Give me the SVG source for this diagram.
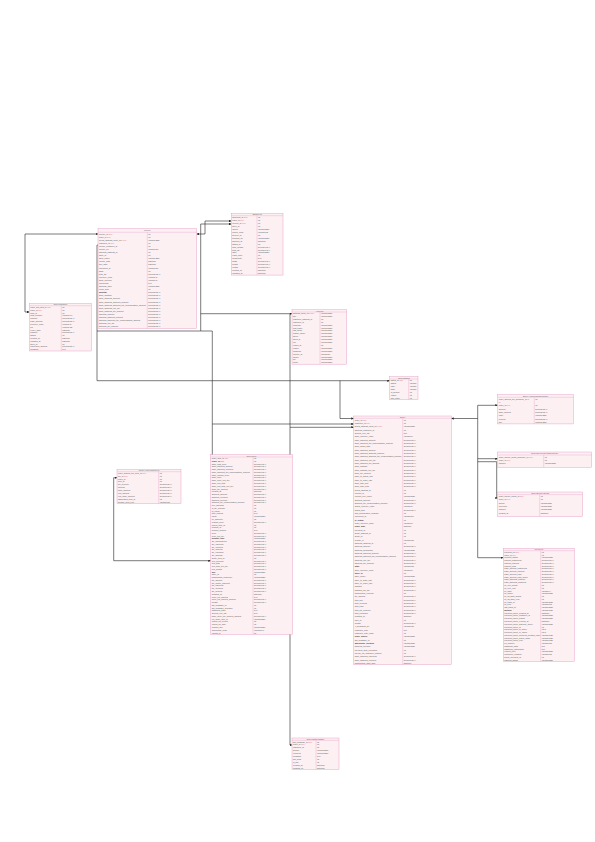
<svg xmlns="http://www.w3.org/2000/svg" width="595" height="842" viewBox="0 0 595 842">
<style>
.tb{fill:#fcf0f2;stroke:#e9a3c9;stroke-width:0.5}
.hl{stroke:#e9a3c9;stroke-width:0.4}
.th{font-family:"Liberation Sans",sans-serif;font-size:2.2px;fill:#666;text-anchor:middle}
.tn,.tt{font-family:"Liberation Sans",sans-serif;font-size:2px;fill:#555}
.k{fill:#e8506e}
.b{font-weight:bold;fill:#333}
.cn{fill:none;stroke:#222;stroke-width:0.6}
</style>
<defs>
<marker id="ar" viewBox="0 0 6 6" refX="6" refY="3" markerWidth="4" markerHeight="4" orient="auto-start-reverse"><path d="M0,0L6,3L0,6z" fill="#222"/></marker>
</defs>
<rect width="595" height="842" fill="#fff"/>
<g id="connectors">
<path class="cn" d="M29.3,312H25V234H98" marker-start="url(#ar)" marker-end="url(#ar)"/>
<path class="cn" d="M98,245H97V380.7H389.7" marker-end="url(#ar)"/>
<path class="cn" d="M97,331H200.7V224H231.3" marker-end="url(#ar)"/>
<path class="cn" d="M196.7,234H205V221H231.3" marker-start="url(#ar)" marker-end="url(#ar)"/>
<path class="cn" d="M200.7,331H212.3V458.7H210.7" marker-end="url(#ar)"/>
<path class="cn" d="M200.7,313.7H292" marker-end="url(#ar)"/>
<path class="cn" d="M290,313.7V745H292" marker-end="url(#ar)"/>
<path class="cn" d="M290,427.3H353.7" marker-end="url(#ar)"/>
<path class="cn" d="M340,380.7V418.5H353.7" marker-end="url(#ar)"/>
<path class="cn" d="M212.3,424H353.7" marker-end="url(#ar)"/>
<path class="cn" d="M451.3,418.5H477.7" marker-start="url(#ar)"/>
<path class="cn" d="M497.7,405.3H477.7V557.7H503.3" marker-start="url(#ar)" marker-end="url(#ar)"/>
<path class="cn" d="M477.7,458.7H497.7" marker-end="url(#ar)"/>
<path class="cn" d="M477.7,461.7H496.7V498H497.7" marker-end="url(#ar)"/>
<path class="cn" d="M117,477.7H113.7V560.7H210.7" marker-start="url(#ar)" marker-end="url(#ar)"/>
</g>

<g id="t-giftcard" transform="translate(29.3,303.3)">
<rect class="tb" width="62" height="47.7"/>
<line class="hl" x1="0" y1="2.4" x2="62" y2="2.4"/><line class="hl" x1="32" y1="2.4" x2="32" y2="47.7"/>
<text class="th" x="31" y="1.9">OrderGiftCard</text>
<text class="tn"><tspan x="1" y="4.6">order_gift_card_id <tspan class="k">(PK)</tspan></tspan><tspan x="1" y="7.4">order_id <tspan class="k">(FK)</tspan></tspan><tspan x="1" y="10.3">card_id</tspan><tspan x="1" y="13.1">card_number</tspan><tspan x="1" y="15.9">amount</tspan><tspan x="1" y="18.8">base_amount</tspan><tspan x="1" y="21.6">currency_code</tspan><tspan x="1" y="24.4">pin</tspan><tspan x="1" y="27.3">expiry_date</tspan><tspan x="1" y="30.1">balance</tspan><tspan x="1" y="32.9">status</tspan><tspan x="1" y="35.7">created_at</tspan><tspan x="1" y="38.6">updated_at</tspan><tspan x="1" y="41.4">store_id</tspan><tspan x="1" y="44.2">redeemed_amount</tspan><tspan x="1" y="47.1">message</tspan></text>
<text class="tt"><tspan x="33" y="4.6">int</tspan><tspan x="33" y="7.4">int</tspan><tspan x="33" y="10.3">int</tspan><tspan x="33" y="13.1">varchar(64)</tspan><tspan x="33" y="15.9">decimal(12,4)</tspan><tspan x="33" y="18.8">decimal(12,4)</tspan><tspan x="33" y="21.6">varchar(3)</tspan><tspan x="33" y="24.4">varchar(32)</tspan><tspan x="33" y="27.3">datetime</tspan><tspan x="33" y="30.1">decimal(12,4)</tspan><tspan x="33" y="32.9">int</tspan><tspan x="33" y="35.7">datetime</tspan><tspan x="33" y="38.6">datetime</tspan><tspan x="33" y="41.4">int</tspan><tspan x="33" y="44.2">decimal(12,4)</tspan><tspan x="33" y="47.1">text</tspan></text>
</g>

<g id="t-invoice" transform="translate(98,228.7)">
<rect class="tb" width="98.7" height="100"/>
<line class="hl" x1="0" y1="3.6" x2="98.7" y2="3.6"/><line class="hl" x1="49.3" y1="3.6" x2="49.3" y2="100"/>
<text class="th" x="49.3" y="2.7">Invoice</text>
<text class="tn"><tspan x="1" y="5.9">invoice_id <tspan class="k">(PK)</tspan></tspan><tspan x="1" y="9">order_id <tspan class="k">(FK)</tspan></tspan><tspan x="1" y="12.1">billing_address_book_key <tspan class="k">(FK)</tspan></tspan><tspan x="1" y="15.2">customer_id <tspan class="k">(FK)</tspan></tspan><tspan x="1" y="18.3">invoice_customer_id</tspan><tspan x="1" y="21.4">invoice_no</tspan><tspan x="1" y="24.4">shipping_address_id</tspan><tspan x="1" y="27.5">store_id</tspan><tspan x="1" y="30.6">store_name</tspan><tspan x="1" y="33.7">invoice_date</tspan><tspan x="1" y="36.8">due_date</tspan><tspan x="1" y="39.9">increment_id</tspan><tspan x="1" y="43">state</tspan><tspan x="1" y="46.1">total_qty</tspan><tspan x="1" y="49.2">currency_code</tspan><tspan x="1" y="52.3">base_currency</tspan><tspan x="1" y="55.3">comments</tspan><tspan x="1" y="58.4">shipping_label</tspan><tspan x="1" y="61.5">email_sent</tspan><tspan x="1" y="64.6" class="b">subtotal</tspan><tspan x="1" y="67.7">base_subtotal</tspan><tspan x="1" y="70.8">base_shipping_amount</tspan><tspan x="1" y="73.9">base_shipping_discount_amount</tspan><tspan x="1" y="77">base_shipping_discount_tax_compensation_amount</tspan><tspan x="1" y="80.1">base_shipping_incl_tax</tspan><tspan x="1" y="83.2">base_shipping_tax_amount</tspan><tspan x="1" y="86.2">shipping_amount</tspan><tspan x="1" y="89.3">shipping_discount_amount</tspan><tspan x="1" y="92.4">shipping_discount_tax_compensation_amount</tspan><tspan x="1" y="95.5">shipping_incl_tax</tspan><tspan x="1" y="98.6">shipping_tax_amount</tspan></text>
<text class="tt"><tspan x="50.3" y="5.9">int</tspan><tspan x="50.3" y="9">int</tspan><tspan x="50.3" y="12.1">varchar(255)</tspan><tspan x="50.3" y="15.2">int</tspan><tspan x="50.3" y="18.3">int</tspan><tspan x="50.3" y="21.4">varchar(50)</tspan><tspan x="50.3" y="24.4">int</tspan><tspan x="50.3" y="27.5">int</tspan><tspan x="50.3" y="30.6">varchar(255)</tspan><tspan x="50.3" y="33.7">datetime</tspan><tspan x="50.3" y="36.8">datetime</tspan><tspan x="50.3" y="39.9">varchar(50)</tspan><tspan x="50.3" y="43">int</tspan><tspan x="50.3" y="46.1">decimal(12,4)</tspan><tspan x="50.3" y="49.2">varchar(3)</tspan><tspan x="50.3" y="52.3">varchar(3)</tspan><tspan x="50.3" y="55.3">text</tspan><tspan x="50.3" y="58.4">varchar(255)</tspan><tspan x="50.3" y="61.5">int</tspan><tspan x="50.3" y="64.6">decimal(12,4)</tspan><tspan x="50.3" y="67.7">decimal(12,4)</tspan><tspan x="50.3" y="70.8">decimal(12,4)</tspan><tspan x="50.3" y="73.9">decimal(12,4)</tspan><tspan x="50.3" y="77">decimal(12,4)</tspan><tspan x="50.3" y="80.1">decimal(12,4)</tspan><tspan x="50.3" y="83.2">decimal(12,4)</tspan><tspan x="50.3" y="86.2">decimal(12,4)</tspan><tspan x="50.3" y="89.3">decimal(12,4)</tspan><tspan x="50.3" y="92.4">decimal(12,4)</tspan><tspan x="50.3" y="95.5">decimal(12,4)</tspan><tspan x="50.3" y="98.6">decimal(12,4)</tspan></text>
</g>

<g id="t-shipment" transform="translate(231.3,213.3)">
<rect class="tb" width="51.7" height="61.8"/>
<line class="hl" x1="0" y1="2.4" x2="51.7" y2="2.4"/><line class="hl" x1="25.7" y1="2.4" x2="25.7" y2="61.8"/>
<text class="th" x="25.8" y="1.9">Shipment</text>
<text class="tn"><tspan x="1" y="4.6">shipment_id <tspan class="k">(PK)</tspan></tspan><tspan x="1" y="7.6">order_id <tspan class="k">(FK)</tspan></tspan><tspan x="1" y="10.5">invoice_id <tspan class="k">(FK)</tspan></tspan><tspan x="1" y="13.5">store_id</tspan><tspan x="1" y="16.5">carrier</tspan><tspan x="1" y="19.5">carrier_code</tspan><tspan x="1" y="22.4">service_id</tspan><tspan x="1" y="25.4">tracking_no</tspan><tspan x="1" y="28.4">shipped_at</tspan><tspan x="1" y="31.3">status_id</tspan><tspan x="1" y="34.3">total_weight</tspan><tspan x="1" y="37.3">total_qty</tspan><tspan x="1" y="40.2">label</tspan><tspan x="1" y="43.2">email_sent</tspan><tspan x="1" y="46.2">comments</tspan><tspan x="1" y="49.2">width</tspan><tspan x="1" y="52.1">height</tspan><tspan x="1" y="55.1">length</tspan><tspan x="1" y="58.1">created_at</tspan><tspan x="1" y="61">updated_at</tspan></text>
<text class="tt"><tspan x="26.7" y="4.6">int</tspan><tspan x="26.7" y="7.6">int</tspan><tspan x="26.7" y="10.5">int</tspan><tspan x="26.7" y="13.5">int</tspan><tspan x="26.7" y="16.5">varchar(255)</tspan><tspan x="26.7" y="19.5">varchar(32)</tspan><tspan x="26.7" y="22.4">int</tspan><tspan x="26.7" y="25.4">varchar(255)</tspan><tspan x="26.7" y="28.4">datetime</tspan><tspan x="26.7" y="31.3">int</tspan><tspan x="26.7" y="34.3">decimal(12,4)</tspan><tspan x="26.7" y="37.3">decimal(12,4)</tspan><tspan x="26.7" y="40.2">varchar(255)</tspan><tspan x="26.7" y="43.2">int</tspan><tspan x="26.7" y="46.2">text</tspan><tspan x="26.7" y="49.2">decimal(12,4)</tspan><tspan x="26.7" y="52.1">decimal(12,4)</tspan><tspan x="26.7" y="55.1">decimal(12,4)</tspan><tspan x="26.7" y="58.1">datetime</tspan><tspan x="26.7" y="61">datetime</tspan></text>
</g>

<g id="t-address" transform="translate(292,309.7)">
<rect class="tb" width="54.7" height="54.5"/>
<line class="hl" x1="0" y1="2.3" x2="54.7" y2="2.3"/><line class="hl" x1="28" y1="2.3" x2="28" y2="54.5"/>
<text class="th" x="27.3" y="1.8">Address</text>
<text class="tn"><tspan x="1" y="4.4">address_book_key <tspan class="k">(PK)</tspan></tspan><tspan x="1" y="7.3">title</tspan><tspan x="1" y="10.2">customer_address_id</tspan><tspan x="1" y="13.1">customer_id</tspan><tspan x="1" y="16">company</tspan><tspan x="1" y="18.9">first_name</tspan><tspan x="1" y="21.8">last_name</tspan><tspan x="1" y="24.7">middle_name</tspan><tspan x="1" y="27.6">street</tspan><tspan x="1" y="30.5">street_2</tspan><tspan x="1" y="33.4">city</tspan><tspan x="1" y="36.3">region_id</tspan><tspan x="1" y="39.2">region</tspan><tspan x="1" y="42.1">postcode</tspan><tspan x="1" y="45">country_id</tspan><tspan x="1" y="47.9">phone</tspan><tspan x="1" y="50.8">fax</tspan><tspan x="1" y="53.7">email</tspan></text>
<text class="tt"><tspan x="29" y="4.4">varchar(255)</tspan><tspan x="29" y="7.3">varchar(255)</tspan><tspan x="29" y="10.2">int</tspan><tspan x="29" y="13.1">int</tspan><tspan x="29" y="16">varchar(255)</tspan><tspan x="29" y="18.9">varchar(255)</tspan><tspan x="29" y="21.8">varchar(255)</tspan><tspan x="29" y="24.7">varchar(255)</tspan><tspan x="29" y="27.6">varchar(255)</tspan><tspan x="29" y="30.5">varchar(255)</tspan><tspan x="29" y="33.4">varchar(255)</tspan><tspan x="29" y="36.3">int</tspan><tspan x="29" y="39.2">varchar(255)</tspan><tspan x="29" y="42.1">varchar(255)</tspan><tspan x="29" y="45">varchar(2)</tspan><tspan x="29" y="47.9">varchar(255)</tspan><tspan x="29" y="50.8">varchar(255)</tspan><tspan x="29" y="53.7">varchar(255)</tspan></text>
</g>

<g id="t-status" transform="translate(389.7,376.7)">
<rect class="tb" width="28.3" height="23"/>
<line class="hl" x1="0" y1="2.3" x2="28.3" y2="2.3"/><line class="hl" x1="19" y1="2.3" x2="19" y2="23"/>
<text class="th" x="14.2" y="1.8">OrderStatus</text>
<text class="tn"><tspan x="1" y="4.5">status_id <tspan class="k">(PK)</tspan></tspan><tspan x="1" y="7.5">status</tspan><tspan x="1" y="10.4">label</tspan><tspan x="1" y="13.4">state</tspan><tspan x="1" y="16.3">is_default</tspan><tspan x="1" y="19.3">visible</tspan><tspan x="1" y="22.3">sort_order</tspan></text>
<text class="tt"><tspan x="20" y="4.5">int</tspan><tspan x="20" y="7.5">varchar</tspan><tspan x="20" y="10.4">varchar</tspan><tspan x="20" y="13.4">varchar</tspan><tspan x="20" y="16.3">int</tspan><tspan x="20" y="19.3">int</tspan><tspan x="20" y="22.3">int</tspan></text>
</g>

<g id="t-order" transform="translate(353.7,416)">
<rect class="tb" width="97.6" height="248.7"/>
<line class="hl" x1="0" y1="2.3" x2="97.6" y2="2.3"/><line class="hl" x1="49" y1="2.3" x2="49" y2="248.7"/>
<text class="th" x="48.8" y="1.8">Order</text>
<text class="tn"><tspan x="1" y="4.8">order_id <tspan class="k">(PK)</tspan></tspan><tspan x="1" y="8.1">customer_id <tspan class="k">(FK)</tspan></tspan><tspan x="1" y="11.4">billing_address_book_key <tspan class="k">(FK)</tspan></tspan><tspan x="1" y="14.7">shipping_customer_id</tspan><tspan x="1" y="18.1">applied_rule_ids</tspan><tspan x="1" y="21.4">base_currency_code</tspan><tspan x="1" y="24.7">base_discount_amount</tspan><tspan x="1" y="28.1">base_discount_tax_compensation_amount</tspan><tspan x="1" y="31.4">base_grand_total</tspan><tspan x="1" y="34.7">base_shipping_amount</tspan><tspan x="1" y="38.1">base_shipping_discount_amount</tspan><tspan x="1" y="41.4">base_shipping_discount_tax_compensation_amount</tspan><tspan x="1" y="44.7">base_shipping_incl_tax</tspan><tspan x="1" y="48">base_shipping_tax_amount</tspan><tspan x="1" y="51.4">base_subtotal</tspan><tspan x="1" y="54.7">base_subtotal_incl_tax</tspan><tspan x="1" y="58">base_tax_amount</tspan><tspan x="1" y="61.4">base_to_global_rate</tspan><tspan x="1" y="64.7">base_to_order_rate</tspan><tspan x="1" y="68">base_total_due</tspan><tspan x="1" y="71.4">base_total_paid</tspan><tspan x="1" y="74.7">billing_address_id</tspan><tspan x="1" y="78">coupon_id</tspan><tspan x="1" y="81.3">coupon_rule_name</tspan><tspan x="1" y="84.7">discount_amount</tspan><tspan x="1" y="88">discount_tax_compensation_amount</tspan><tspan x="1" y="91.3">global_currency_code</tspan><tspan x="1" y="94.7">grand_total</tspan><tspan x="1" y="98">has_membership_upgrade</tspan><tspan x="1" y="101.3">increment_id</tspan><tspan x="1" y="104.7" class="b">is_virtual</tspan><tspan x="1" y="108">order_currency_code</tspan><tspan x="1" y="111.3" class="b">order_date</tspan><tspan x="1" y="114.6">payment_id</tspan><tspan x="1" y="118">quote_address_id</tspan><tspan x="1" y="121.3">quote_id</tspan><tspan x="1" y="124.6">remote_ip</tspan><tspan x="1" y="128">shipping_address_id</tspan><tspan x="1" y="131.3">shipping_amount</tspan><tspan x="1" y="134.6">shipping_description</tspan><tspan x="1" y="138">shipping_discount_amount</tspan><tspan x="1" y="141.3">shipping_discount_tax_compensation_amount</tspan><tspan x="1" y="144.6">shipping_incl_tax</tspan><tspan x="1" y="147.9">shipping_tax_amount</tspan><tspan x="1" y="151.3" class="b">state</tspan><tspan x="1" y="154.6">store_currency_code</tspan><tspan x="1" y="157.9" class="b">store_id</tspan><tspan x="1" y="161.3">store_name</tspan><tspan x="1" y="164.6">store_to_base_rate</tspan><tspan x="1" y="167.9">store_to_order_rate</tspan><tspan x="1" y="171.3">subtotal</tspan><tspan x="1" y="174.6">subtotal_incl_tax</tspan><tspan x="1" y="177.9">subscription_renewal</tspan><tspan x="1" y="181.2">tax_amount</tspan><tspan x="1" y="184.6">total_due</tspan><tspan x="1" y="187.9">total_invoiced</tspan><tspan x="1" y="191.2">total_paid</tspan><tspan x="1" y="194.6">total_qty_ordered</tspan><tspan x="1" y="197.9">total_refunded</tspan><tspan x="1" y="201.2">updated_at</tspan><tspan x="1" y="204.6">user_id</tspan><tspan x="1" y="207.9">weight</tspan><tspan x="1" y="211.2">x_forwarded_for</tspan><tspan x="1" y="214.5">customer_note</tspan><tspan x="1" y="217.9">customer_note_notify</tspan><tspan x="1" y="221.2" class="b">order_source</tspan><tspan x="1" y="224.5">gift_message_id</tspan><tspan x="1" y="227.9" class="b">warehouse_location</tspan><tspan x="1" y="231.2">shipping_provider</tspan><tspan x="1" y="234.5">payment_auth_expiration</tspan><tspan x="1" y="237.9">paypal_ipn_customer_notified</tspan><tspan x="1" y="241.2">base_shipping_canceled</tspan><tspan x="1" y="244.5">base_shipping_invoiced</tspan><tspan x="1" y="247.8">subscription_start_date</tspan></text>
<text class="tt"><tspan x="50" y="4.8">int</tspan><tspan x="50" y="8.1">int</tspan><tspan x="50" y="11.4">varchar(255)</tspan><tspan x="50" y="14.7">int</tspan><tspan x="50" y="18.1">text</tspan><tspan x="50" y="21.4">varchar(3)</tspan><tspan x="50" y="24.7">decimal(12,4)</tspan><tspan x="50" y="28.1">decimal(12,4)</tspan><tspan x="50" y="31.4">decimal(12,4)</tspan><tspan x="50" y="34.7">decimal(12,4)</tspan><tspan x="50" y="38.1">decimal(12,4)</tspan><tspan x="50" y="41.4">decimal(12,4)</tspan><tspan x="50" y="44.7">decimal(12,4)</tspan><tspan x="50" y="48">decimal(12,4)</tspan><tspan x="50" y="51.4">decimal(12,4)</tspan><tspan x="50" y="54.7">decimal(12,4)</tspan><tspan x="50" y="58">decimal(12,4)</tspan><tspan x="50" y="61.4">decimal(12,4)</tspan><tspan x="50" y="64.7">decimal(12,4)</tspan><tspan x="50" y="68">decimal(12,4)</tspan><tspan x="50" y="71.4">decimal(12,4)</tspan><tspan x="50" y="74.7">int</tspan><tspan x="50" y="78">int</tspan><tspan x="50" y="81.3">varchar(255)</tspan><tspan x="50" y="84.7">decimal(12,4)</tspan><tspan x="50" y="88">decimal(12,4)</tspan><tspan x="50" y="91.3">varchar(3)</tspan><tspan x="50" y="94.7">decimal(12,4)</tspan><tspan x="50" y="98">int</tspan><tspan x="50" y="101.3">varchar(50)</tspan><tspan x="50" y="104.7">int</tspan><tspan x="50" y="108">varchar(3)</tspan><tspan x="50" y="111.3">datetime</tspan><tspan x="50" y="114.6">int</tspan><tspan x="50" y="118">int</tspan><tspan x="50" y="121.3">int</tspan><tspan x="50" y="124.6">varchar(32)</tspan><tspan x="50" y="128">int</tspan><tspan x="50" y="131.3">decimal(12,4)</tspan><tspan x="50" y="134.6">varchar(255)</tspan><tspan x="50" y="138">decimal(12,4)</tspan><tspan x="50" y="141.3">decimal(12,4)</tspan><tspan x="50" y="144.6">decimal(12,4)</tspan><tspan x="50" y="147.9">decimal(12,4)</tspan><tspan x="50" y="151.3">varchar(32)</tspan><tspan x="50" y="154.6">varchar(3)</tspan><tspan x="50" y="157.9">int</tspan><tspan x="50" y="161.3">varchar(255)</tspan><tspan x="50" y="164.6">decimal(12,4)</tspan><tspan x="50" y="167.9">decimal(12,4)</tspan><tspan x="50" y="171.3">decimal(12,4)</tspan><tspan x="50" y="174.6">decimal(12,4)</tspan><tspan x="50" y="177.9">int</tspan><tspan x="50" y="181.2">decimal(12,4)</tspan><tspan x="50" y="184.6">decimal(12,4)</tspan><tspan x="50" y="187.9">decimal(12,4)</tspan><tspan x="50" y="191.2">decimal(12,4)</tspan><tspan x="50" y="194.6">decimal(12,4)</tspan><tspan x="50" y="197.9">decimal(12,4)</tspan><tspan x="50" y="201.2">datetime</tspan><tspan x="50" y="204.6">int</tspan><tspan x="50" y="207.9">decimal(12,4)</tspan><tspan x="50" y="211.2">varchar(32)</tspan><tspan x="50" y="214.5">text</tspan><tspan x="50" y="217.9">int</tspan><tspan x="50" y="221.2">varchar(255)</tspan><tspan x="50" y="224.5">int</tspan><tspan x="50" y="227.9">varchar(255)</tspan><tspan x="50" y="231.2">varchar(255)</tspan><tspan x="50" y="234.5">int</tspan><tspan x="50" y="237.9">int</tspan><tspan x="50" y="241.2">decimal(12,4)</tspan><tspan x="50" y="244.5">decimal(12,4)</tspan><tspan x="50" y="247.8">datetime</tspan></text>
</g>

<g id="t-taxsummary" transform="translate(497.7,394.7)">
<rect class="tb" width="75.6" height="29.2"/>
<line class="hl" x1="0" y1="2.6" x2="75.6" y2="2.6"/><line class="hl" x1="36.6" y1="2.6" x2="36.6" y2="29.2"/>
<text class="th" x="37.8" y="2">OrderAppliedTaxSummary</text>
<text class="tn"><tspan x="1" y="5.1">order_applied_tax_summary_id <tspan class="k">(P</tspan></tspan><tspan x="1" y="8.4" class="k">K)</tspan><tspan x="1" y="11.7">order_id <tspan class="k">(FK)</tspan></tspan><tspan x="1" y="15">amount</tspan><tspan x="1" y="18.4">base_amount</tspan><tspan x="1" y="21.7">code</tspan><tspan x="1" y="25">percent</tspan><tspan x="1" y="28.4">title</tspan></text>
<text class="tt"><tspan x="37.6" y="5.1">int</tspan><tspan x="37.6" y="11.7">int</tspan><tspan x="37.6" y="15">decimal(12,4)</tspan><tspan x="37.6" y="18.4">decimal(12,4)</tspan><tspan x="37.6" y="21.7">varchar(255)</tspan><tspan x="37.6" y="25">decimal(12,4)</tspan><tspan x="37.6" y="28.4">varchar(255)</tspan></text>
</g>

<g id="t-sourcesummary" transform="translate(497.7,452)">
<rect class="tb" width="94" height="15.3"/>
<line class="hl" x1="0" y1="3" x2="94" y2="3"/><line class="hl" x1="46" y1="3" x2="46" y2="15.3"/>
<text class="th" x="47" y="2.2">OrderSourceDetailSummary</text>
<text class="tn"><tspan x="1" y="5.5">order_source_detail_summary_id <tspan class="k">(PK)</tspan></tspan><tspan x="1" y="8.8">order_id <tspan class="k">(FK)</tspan></tspan><tspan x="1" y="12.1">channel</tspan></text>
<text class="tt"><tspan x="47" y="5.5">int</tspan><tspan x="47" y="8.8">int</tspan><tspan x="47" y="12.1">varchar(255)</tspan></text>
</g>

<g id="t-sourcedetail" transform="translate(497.7,492)">
<rect class="tb" width="85" height="24.5"/>
<line class="hl" x1="0" y1="2.6" x2="85" y2="2.6"/><line class="hl" x1="42" y1="2.6" x2="42" y2="24.5"/>
<text class="th" x="42.5" y="2">OrderSourceDetail</text>
<text class="tn"><tspan x="1" y="5.1">order_source_detail_id <tspan class="k">(PK)</tspan></tspan><tspan x="1" y="8.4">order_id <tspan class="k">(FK)</tspan></tspan><tspan x="1" y="11.7">source</tspan><tspan x="1" y="15">reference</tspan><tspan x="1" y="18.4">channel</tspan><tspan x="1" y="21.7">created_at</tspan></text>
<text class="tt"><tspan x="43" y="5.1">int</tspan><tspan x="43" y="8.4">int</tspan><tspan x="43" y="11.7">varchar(255)</tspan><tspan x="43" y="15">varchar(255)</tspan><tspan x="43" y="18.4">varchar(255)</tspan><tspan x="43" y="21.7">datetime</tspan></text>
</g>

<g id="t-payment" transform="translate(503.3,548.3)">
<rect class="tb" width="71" height="113.2"/>
<line class="hl" x1="0" y1="2.4" x2="71" y2="2.4"/><line class="hl" x1="37.4" y1="2.4" x2="37.4" y2="113.2"/>
<text class="th" x="35.5" y="1.9">Payment</text>
<text class="tn"><tspan x="1" y="4.5">payment_id <tspan class="k">(PK)</tspan></tspan><tspan x="1" y="7.3">order_id <tspan class="k">(FK)</tspan></tspan><tspan x="1" y="10">account_status</tspan><tspan x="1" y="12.8">amount_authorized</tspan><tspan x="1" y="15.6">amount_ordered</tspan><tspan x="1" y="18.4">amount_paid</tspan><tspan x="1" y="21.1">base_amount_authorized</tspan><tspan x="1" y="23.9">base_amount_ordered</tspan><tspan x="1" y="26.7">base_amount_paid</tspan><tspan x="1" y="29.4">base_amount_paid_online</tspan><tspan x="1" y="32.2">base_shipping_amount</tspan><tspan x="1" y="35">base_shipping_captured</tspan><tspan x="1" y="37.7">cc_exp_month</tspan><tspan x="1" y="40.5">cc_exp_year</tspan><tspan x="1" y="43.3">cc_last4</tspan><tspan x="1" y="46.1">cc_owner</tspan><tspan x="1" y="48.8">cc_ss_start_month</tspan><tspan x="1" y="51.6">cc_ss_start_year</tspan><tspan x="1" y="54.4">cc_trans_id</tspan><tspan x="1" y="57.1">cc_type</tspan><tspan x="1" y="59.9">last_trans_id</tspan><tspan x="1" y="62.7" class="b">method</tspan><tspan x="1" y="65.4">payment_token_created_at</tspan><tspan x="1" y="68.2">payment_token_customer_id</tspan><tspan x="1" y="71">payment_token_details</tspan><tspan x="1" y="73.8">payment_token_expires_at</tspan><tspan x="1" y="76.5">payment_token_gateway_token</tspan><tspan x="1" y="79.3">payment_token_id</tspan><tspan x="1" y="82.1">payment_token_is_active</tspan><tspan x="1" y="84.8">payment_token_is_visible</tspan><tspan x="1" y="87.6">payment_token_payment_method_code</tspan><tspan x="1" y="90.4">payment_token_public_hash</tspan><tspan x="1" y="93.1">payment_token_type</tspan><tspan x="1" y="95.9">po_number</tspan><tspan x="1" y="98.7">additional_data</tspan><tspan x="1" y="101.5">additional_information</tspan><tspan x="1" y="104.2">echeck_type</tspan><tspan x="1" y="107">protection_eligibility</tspan><tspan x="1" y="109.8">quote_payment_id</tspan><tspan x="1" y="112.5">address_status</tspan></text>
<text class="tt"><tspan x="38.4" y="4.5">int</tspan><tspan x="38.4" y="7.3">int</tspan><tspan x="38.4" y="10">varchar(255)</tspan><tspan x="38.4" y="12.8">decimal(12,4)</tspan><tspan x="38.4" y="15.6">decimal(12,4)</tspan><tspan x="38.4" y="18.4">decimal(12,4)</tspan><tspan x="38.4" y="21.1">decimal(12,4)</tspan><tspan x="38.4" y="23.9">decimal(12,4)</tspan><tspan x="38.4" y="26.7">decimal(12,4)</tspan><tspan x="38.4" y="29.4">decimal(12,4)</tspan><tspan x="38.4" y="32.2">decimal(12,4)</tspan><tspan x="38.4" y="35">decimal(12,4)</tspan><tspan x="38.4" y="37.7">int</tspan><tspan x="38.4" y="40.5">int</tspan><tspan x="38.4" y="43.3">varchar(4)</tspan><tspan x="38.4" y="46.1">varchar(255)</tspan><tspan x="38.4" y="48.8">int</tspan><tspan x="38.4" y="51.6">int</tspan><tspan x="38.4" y="54.4">varchar(255)</tspan><tspan x="38.4" y="57.1">varchar(32)</tspan><tspan x="38.4" y="59.9">varchar(255)</tspan><tspan x="38.4" y="62.7">varchar(128)</tspan><tspan x="38.4" y="65.4">datetime</tspan><tspan x="38.4" y="68.2">varchar(255)</tspan><tspan x="38.4" y="71">varchar(255)</tspan><tspan x="38.4" y="73.8">datetime</tspan><tspan x="38.4" y="76.5">varchar(255)</tspan><tspan x="38.4" y="79.3">int</tspan><tspan x="38.4" y="82.1">int(1)</tspan><tspan x="38.4" y="84.8">int(1)</tspan><tspan x="38.4" y="87.6">varchar(128)</tspan><tspan x="38.4" y="90.4">varchar(128)</tspan><tspan x="38.4" y="93.1">varchar(128)</tspan><tspan x="38.4" y="95.9">varchar(32)</tspan><tspan x="38.4" y="98.7">text</tspan><tspan x="38.4" y="101.5">text</tspan><tspan x="38.4" y="104.2">varchar(255)</tspan><tspan x="38.4" y="107">varchar(32)</tspan><tspan x="38.4" y="109.8">int</tspan><tspan x="38.4" y="112.5">varchar(255)</tspan></text>
</g>

<g id="t-taxitem" transform="translate(117,469.3)">
<rect class="tb" width="64" height="34.3"/>
<line class="hl" x1="0" y1="2.4" x2="64" y2="2.4"/><line class="hl" x1="41.7" y1="2.4" x2="41.7" y2="34.3"/>
<text class="th" x="32" y="1.9">OrderAppliedTaxItem</text>
<text class="tn"><tspan x="1" y="4.5">order_applied_tax_item_id <tspan class="k">(PK)</tspan></tspan><tspan x="1" y="7.4">tax_id <tspan class="k">(FK)</tspan></tspan><tspan x="1" y="10.3">order_id</tspan><tspan x="1" y="13.2">item_id</tspan><tspan x="1" y="16.1">tax_percent</tspan><tspan x="1" y="19">amount</tspan><tspan x="1" y="21.9">base_amount</tspan><tspan x="1" y="24.8">real_amount</tspan><tspan x="1" y="27.7">real_base_amount</tspan><tspan x="1" y="30.6">associated_item_id</tspan><tspan x="1" y="33.5">taxable_item_type</tspan></text>
<text class="tt"><tspan x="42.7" y="4.5">int</tspan><tspan x="42.7" y="7.4">int</tspan><tspan x="42.7" y="10.3">int</tspan><tspan x="42.7" y="13.2">int</tspan><tspan x="42.7" y="16.1">decimal(12,4)</tspan><tspan x="42.7" y="19">decimal(12,4)</tspan><tspan x="42.7" y="21.9">decimal(12,4)</tspan><tspan x="42.7" y="24.8">decimal(12,4)</tspan><tspan x="42.7" y="27.7">decimal(12,4)</tspan><tspan x="42.7" y="30.6">int</tspan><tspan x="42.7" y="33.5">varchar(32)</tspan></text>
</g>

<g id="t-orderitem" transform="translate(210.7,454.7)">
<rect class="tb" width="81.6" height="179.6"/>
<line class="hl" x1="0" y1="2.3" x2="81.6" y2="2.3"/><line class="hl" x1="42.3" y1="2.3" x2="42.3" y2="179.6"/>
<text class="th" x="40.8" y="1.8">OrderItem</text>
<text class="tn"><tspan x="1" y="4.4">order_item_id <tspan class="k">(PK)</tspan></tspan><tspan x="1" y="7.2" class="b">order_id <tspan class="k">(FK)</tspan></tspan><tspan x="1" y="9.9">base_cost_price</tspan><tspan x="1" y="12.7">base_discount_amount</tspan><tspan x="1" y="15.5">base_discount_invoiced</tspan><tspan x="1" y="18.3">base_discount_tax_compensation_amount</tspan><tspan x="1" y="21">base_original_price</tspan><tspan x="1" y="23.8">base_price</tspan><tspan x="1" y="26.6">base_price_incl_tax</tspan><tspan x="1" y="29.3">base_row_total</tspan><tspan x="1" y="32.1">base_row_total_incl_tax</tspan><tspan x="1" y="34.9">base_tax_amount</tspan><tspan x="1" y="37.6">created_at</tspan><tspan x="1" y="40.4">discount_amount</tspan><tspan x="1" y="43.2">discount_invoiced</tspan><tspan x="1" y="46">discount_percent</tspan><tspan x="1" y="48.7">discount_tax_compensation_amount</tspan><tspan x="1" y="51.5">free_shipping</tspan><tspan x="1" y="54.3">is_qty_decimal</tspan><tspan x="1" y="57">is_virtual</tspan><tspan x="1" y="59.8">item_options</tspan><tspan x="1" y="62.6">name</tspan><tspan x="1" y="65.3">no_discount</tspan><tspan x="1" y="68.1">original_price</tspan><tspan x="1" y="70.9">parent_item_id</tspan><tspan x="1" y="73.7">product_id</tspan><tspan x="1" y="76.4">product_options</tspan><tspan x="1" y="79.2">price</tspan><tspan x="1" y="82">price_incl_tax</tspan><tspan x="1" y="84.7" class="b">product_type</tspan><tspan x="1" y="87.5">qty_backordered</tspan><tspan x="1" y="90.3">qty_canceled</tspan><tspan x="1" y="93">qty_invoiced</tspan><tspan x="1" y="95.8">qty_ordered</tspan><tspan x="1" y="98.6">qty_refunded</tspan><tspan x="1" y="101.4">qty_shipped</tspan><tspan x="1" y="104.1">quote_item_id</tspan><tspan x="1" y="106.9">row_invoiced</tspan><tspan x="1" y="109.7">row_total</tspan><tspan x="1" y="112.4">row_total_incl_tax</tspan><tspan x="1" y="115.2">row_weight</tspan><tspan x="1" y="118" class="b">sku</tspan><tspan x="1" y="120.7">store_id</tspan><tspan x="1" y="123.5">subscription_frequency</tspan><tspan x="1" y="126.3">tax_amount</tspan><tspan x="1" y="129.1">tax_before_discount</tspan><tspan x="1" y="131.8">tax_canceled</tspan><tspan x="1" y="134.6">tax_invoiced</tspan><tspan x="1" y="137.4">tax_percent</tspan><tspan x="1" y="140.1">updated_at</tspan><tspan x="1" y="142.9">weee_tax_applied</tspan><tspan x="1" y="145.7">weee_tax_applied_amount</tspan><tspan x="1" y="148.4">weight</tspan><tspan x="1" y="151.2">gift_message_id</tspan><tspan x="1" y="154">gift_message_available</tspan><tspan x="1" y="156.8">additional_data</tspan><tspan x="1" y="159.5">applied_rule_ids</tspan><tspan x="1" y="162.3">base_weee_tax_applied_amount</tspan><tspan x="1" y="165.1">ext_order_item_id</tspan><tspan x="1" y="167.8">locked_do_invoice</tspan><tspan x="1" y="170.6">locked_do_ship</tspan><tspan x="1" y="173.4">product_sku</tspan><tspan x="1" y="176.1">warehouse_code</tspan><tspan x="1" y="178.9">variant_id</tspan></text>
<text class="tt"><tspan x="43.3" y="4.4">int</tspan><tspan x="43.3" y="7.2">int</tspan><tspan x="43.3" y="9.9">decimal(12,4)</tspan><tspan x="43.3" y="12.7">decimal(12,4)</tspan><tspan x="43.3" y="15.5">decimal(12,4)</tspan><tspan x="43.3" y="18.3">decimal(12,4)</tspan><tspan x="43.3" y="21">decimal(12,4)</tspan><tspan x="43.3" y="23.8">decimal(12,4)</tspan><tspan x="43.3" y="26.6">decimal(12,4)</tspan><tspan x="43.3" y="29.3">decimal(12,4)</tspan><tspan x="43.3" y="32.1">decimal(12,4)</tspan><tspan x="43.3" y="34.9">decimal(12,4)</tspan><tspan x="43.3" y="37.6">datetime</tspan><tspan x="43.3" y="40.4">decimal(12,4)</tspan><tspan x="43.3" y="43.2">decimal(12,4)</tspan><tspan x="43.3" y="46">decimal(12,4)</tspan><tspan x="43.3" y="48.7">decimal(12,4)</tspan><tspan x="43.3" y="51.5">int</tspan><tspan x="43.3" y="54.3">int</tspan><tspan x="43.3" y="57">int</tspan><tspan x="43.3" y="59.8">text</tspan><tspan x="43.3" y="62.6">varchar(255)</tspan><tspan x="43.3" y="65.3">int</tspan><tspan x="43.3" y="68.1">decimal(12,4)</tspan><tspan x="43.3" y="70.9">int</tspan><tspan x="43.3" y="73.7">int</tspan><tspan x="43.3" y="76.4">text</tspan><tspan x="43.3" y="79.2">decimal(12,4)</tspan><tspan x="43.3" y="82">decimal(12,4)</tspan><tspan x="43.3" y="84.7">varchar(255)</tspan><tspan x="43.3" y="87.5">decimal(12,4)</tspan><tspan x="43.3" y="90.3">decimal(12,4)</tspan><tspan x="43.3" y="93">decimal(12,4)</tspan><tspan x="43.3" y="95.8">decimal(12,4)</tspan><tspan x="43.3" y="98.6">decimal(12,4)</tspan><tspan x="43.3" y="101.4">decimal(12,4)</tspan><tspan x="43.3" y="104.1">int</tspan><tspan x="43.3" y="106.9">decimal(12,4)</tspan><tspan x="43.3" y="109.7">decimal(12,4)</tspan><tspan x="43.3" y="112.4">decimal(12,4)</tspan><tspan x="43.3" y="115.2">decimal(12,4)</tspan><tspan x="43.3" y="118">varchar(255)</tspan><tspan x="43.3" y="120.7">int</tspan><tspan x="43.3" y="123.5">varchar(255)</tspan><tspan x="43.3" y="126.3">decimal(12,4)</tspan><tspan x="43.3" y="129.1">decimal(12,4)</tspan><tspan x="43.3" y="131.8">decimal(12,4)</tspan><tspan x="43.3" y="134.6">decimal(12,4)</tspan><tspan x="43.3" y="137.4">decimal(12,4)</tspan><tspan x="43.3" y="140.1">datetime</tspan><tspan x="43.3" y="142.9">text</tspan><tspan x="43.3" y="145.7">decimal(12,4)</tspan><tspan x="43.3" y="148.4">decimal(12,4)</tspan><tspan x="43.3" y="151.2">int</tspan><tspan x="43.3" y="154">int</tspan><tspan x="43.3" y="156.8">text</tspan><tspan x="43.3" y="159.5">text</tspan><tspan x="43.3" y="162.3">decimal(12,4)</tspan><tspan x="43.3" y="165.1">varchar(255)</tspan><tspan x="43.3" y="167.8">int</tspan><tspan x="43.3" y="170.6">int</tspan><tspan x="43.3" y="173.4">varchar(255)</tspan><tspan x="43.3" y="176.1">varchar(64)</tspan><tspan x="43.3" y="178.9">int</tspan></text>
</g>

<g id="t-giftmessage" transform="translate(292,738)">
<rect class="tb" width="47" height="31.4"/>
<line class="hl" x1="0" y1="2.4" x2="47" y2="2.4"/><line class="hl" x1="24" y1="2.4" x2="24" y2="31.4"/>
<text class="th" x="23.5" y="1.9">OrderGiftMessage</text>
<text class="tn"><tspan x="1" y="4.5">gift_message_id <tspan class="k">(PK)</tspan></tspan><tspan x="1" y="7.4">order_id <tspan class="k">(FK)</tspan></tspan><tspan x="1" y="10.3">customer_id</tspan><tspan x="1" y="13.2">sender</tspan><tspan x="1" y="16.1">recipient</tspan><tspan x="1" y="19">message</tspan><tspan x="1" y="21.9">gift_wrap</tspan><tspan x="1" y="24.8">is_gift</tspan><tspan x="1" y="27.7">created_at</tspan><tspan x="1" y="30.6">updated_at</tspan></text>
<text class="tt"><tspan x="25" y="4.5">int</tspan><tspan x="25" y="7.4">int</tspan><tspan x="25" y="10.3">int</tspan><tspan x="25" y="13.2">varchar(255)</tspan><tspan x="25" y="16.1">varchar(255)</tspan><tspan x="25" y="19">text</tspan><tspan x="25" y="21.9">int</tspan><tspan x="25" y="24.8">int</tspan><tspan x="25" y="27.7">datetime</tspan><tspan x="25" y="30.6">datetime</tspan></text>
</g>
</svg>
